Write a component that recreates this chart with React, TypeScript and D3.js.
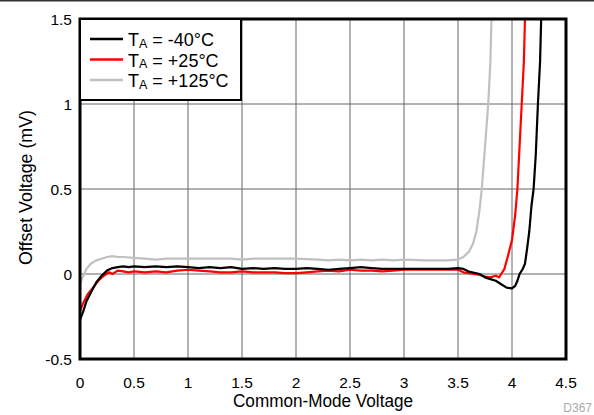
import React from "react";
import * as d3 from "d3";

const xTicks = [0, 0.5, 1, 1.5, 2, 2.5, 3, 3.5, 4, 4.5];
const yTicks = [-0.5, 0, 0.5, 1, 1.5];
const yTickLabels = ["-0.5", "0", "0.5", "1", "1.5"];

const seriesNames = ["-40°C", "+25°C", "+125°C"];
const seriesColors = ["#000000", "#ff0000", "#c0c0c0"];

const blackX = [0,0.03,0.06,0.1,0.15,0.2,0.25,0.3,0.35,0.4,0.45,0.5,0.6,0.7,0.8,0.9,1.0,1.1,1.2,1.3,1.4,1.5,1.6,1.7,1.8,1.9,2.0,2.1,2.2,2.3,2.4,2.5,2.6,2.7,2.8,2.9,3.0,3.2,3.4,3.5,3.55,3.6,3.7,3.75,3.8,3.85,3.9,3.95,4.0,4.03,4.05,4.07,4.1,4.12,4.14,4.16,4.18,4.2,4.22,4.24,4.26,4.27];
const blackY = [-0.27,-0.22,-0.16,-0.11,-0.05,-0.01,0.02,0.035,0.04,0.045,0.04,0.045,0.04,0.045,0.04,0.045,0.04,0.035,0.04,0.035,0.04,0.03,0.035,0.03,0.035,0.03,0.03,0.035,0.03,0.025,0.03,0.035,0.04,0.035,0.03,0.03,0.03,0.03,0.03,0.035,0.03,0.015,0.0,-0.02,-0.03,-0.04,-0.06,-0.08,-0.085,-0.07,-0.04,0.0,0.03,0.06,0.15,0.25,0.4,0.5,0.7,1.0,1.25,1.5];

const redX = [0,0.03,0.07,0.12,0.17,0.22,0.27,0.3,0.35,0.4,0.45,0.5,0.6,0.7,0.8,0.9,1.0,1.1,1.2,1.3,1.4,1.5,1.6,1.7,1.8,1.9,2.0,2.1,2.2,2.3,2.4,2.5,2.6,2.7,2.8,2.9,3.0,3.2,3.4,3.5,3.55,3.6,3.7,3.75,3.8,3.85,3.88,3.9,3.93,3.96,4.0,4.03,4.05,4.07,4.09,4.11,4.12];
const redY = [-0.22,-0.17,-0.12,-0.08,-0.04,-0.01,0.01,0.0,0.02,0.015,0.01,0.015,0.01,0.015,0.01,0.02,0.025,0.02,0.015,0.01,0.01,0.015,0.01,0.01,0.01,0.005,0.005,0.01,0.015,0.02,0.015,0.025,0.02,0.02,0.015,0.02,0.025,0.025,0.025,0.025,0.01,0.005,-0.005,-0.015,-0.02,-0.01,-0.02,0.0,0.03,0.1,0.2,0.35,0.5,0.75,1.0,1.25,1.5];

const grayX = [0,0.03,0.06,0.1,0.15,0.2,0.25,0.3,0.35,0.4,0.5,0.6,0.7,0.8,0.9,1.0,1.2,1.4,1.5,1.6,1.8,2.0,2.2,2.3,2.4,2.5,2.6,2.7,2.8,2.9,3.0,3.2,3.4,3.5,3.55,3.6,3.64,3.67,3.7,3.72,3.75,3.78,3.8,3.81];
const grayY = [-0.06,-0.01,0.03,0.06,0.08,0.09,0.1,0.105,0.1,0.1,0.095,0.09,0.085,0.09,0.09,0.09,0.09,0.09,0.085,0.09,0.09,0.09,0.085,0.08,0.085,0.08,0.085,0.08,0.085,0.08,0.085,0.08,0.08,0.085,0.1,0.13,0.18,0.25,0.38,0.5,0.75,1.0,1.25,1.5];

const seriesX = [blackX, redX, grayX];
const seriesY = [blackY, redY, grayY];

const W = 594, H = 415;
const M = { left: 80, right: 28, top: 19, bottom: 56 };
const FONT = "'Liberation Sans', Arial, Helvetica, sans-serif";

export default function App() {
  const x = d3.scaleLinear().domain([0, 4.5]).range([M.left, W - M.right]);
  const y = d3.scaleLinear().domain([-0.5, 1.5]).range([H - M.bottom, M.top]);
  const line = d3.line<[number, number]>().x(d => x(d[0])).y(d => y(d[1]));
  const x0 = x(0), x1 = x(4.5), y0 = y(-0.5), y1 = y(1.5);
  const order = [2, 1, 0];
  return (
    <svg width={W} height={H} style={{ position: "absolute", left: 0, top: 0 }} fontFamily={FONT}>
      <rect width={W} height={H} fill="#fff" />
      <line x1={0} x2={W} y1={0.75} y2={0.75} stroke="#333" strokeWidth={1.5} />
      <defs>
        <clipPath id="plot">
          <rect x={x0} y={y1} width={x1 - x0} height={y0 - y1} />
        </clipPath>
      </defs>
      {xTicks.map(t => (
        <line key={"gx" + t} x1={x(t)} x2={x(t)} y1={y1} y2={y0} stroke="#666" strokeWidth={1} />
      ))}
      {yTicks.map(t => (
        <line key={"gy" + t} x1={x0} x2={x1} y1={y(t)} y2={y(t)} stroke="#666" strokeWidth={1} />
      ))}
      <g clipPath="url(#plot)">
        {order.map(i => (
          <path key={i} d={line(seriesX[i].map((v, j) => [v, seriesY[i][j]] as [number, number])) || ""}
            fill="none" stroke={seriesColors[i]} strokeWidth={2.2} strokeLinejoin="round" />
        ))}
      </g>
      <rect x={x0} y={y1} width={x1 - x0} height={y0 - y1} fill="none" stroke="#000" strokeWidth={3} />
      <rect x={x0} y={y1} width={161} height={81} fill="#fff" stroke="#000" strokeWidth={2} />
      {seriesNames.map((n, i) => (
        <g key={n}>
          <line x1={90} x2={123} y1={39 + i * 20.5} y2={39 + i * 20.5} stroke={seriesColors[i]} strokeWidth={2.5} />
          <text x={128} y={46 + i * 20.5} fontSize={18} fill="#000">
            T<tspan fontSize={12.5} dy={1.6}>A</tspan><tspan dy={-1.6}>{" = " + n}</tspan>
          </text>
        </g>
      ))}
      {xTicks.map(t => (
        <text key={"tx" + t} x={x(t)} y={388} textAnchor="middle" fontSize={15.5} fill="#000">{String(t)}</text>
      ))}
      {yTicks.map((t, i) => (
        <text key={"ty" + t} x={72} y={y(t) + 5.5} textAnchor="end" fontSize={15.5} fill="#000">{yTickLabels[i]}</text>
      ))}
      <text x={(x0 + x1) / 2} y={407} textAnchor="middle" fontSize={17.5} fill="#000"
        textLength={180} lengthAdjust="spacingAndGlyphs">Common-Mode Voltage</text>
      <text transform={`translate(32,187.5) rotate(-90)`} textAnchor="middle" fontSize={18} fill="#000"
        textLength={155} lengthAdjust="spacingAndGlyphs">Offset Voltage (mV)</text>
      <text x={592} y={412} textAnchor="end" fontSize={12} fill="#aaa">D367</text>
    </svg>
  );
}
